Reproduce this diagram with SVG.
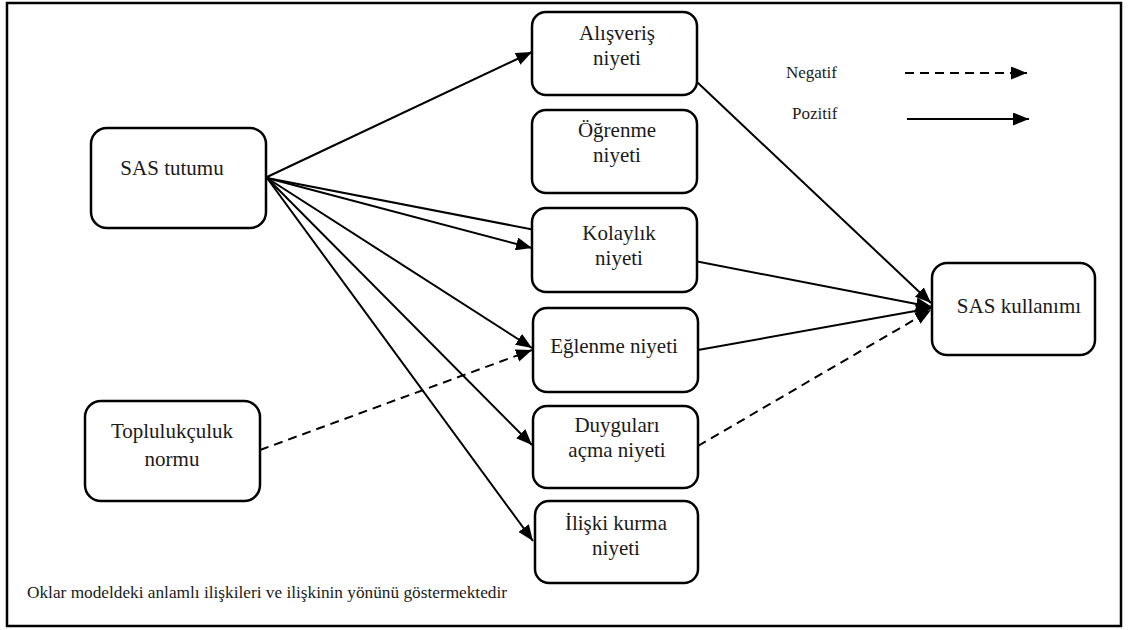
<svg xmlns="http://www.w3.org/2000/svg" width="1128" height="630" viewBox="0 0 1128 630">
<style>
.box{fill:#fff;stroke:#000;stroke-width:2.5}
.t{font-family:'Liberation Serif','DejaVu Serif',serif;font-size:21px;fill:#1a1a1a;text-anchor:middle}
.s{font-family:'Liberation Serif','DejaVu Serif',serif;font-size:17px;fill:#1a1a1a}
.ln{stroke:#000;stroke-width:2;fill:none}
.dash{stroke-dasharray:9 6}
</style>
<defs>
<marker id="ah" markerUnits="userSpaceOnUse" markerWidth="17" markerHeight="13" refX="16" refY="6.5" orient="auto">
<path d="M0,0 L16,6.5 L0,13 z" fill="#000"/>
</marker>
</defs>
<rect x="7" y="3" width="1114" height="623" fill="#fff" stroke="#000" stroke-width="2.5"/>
<g id="connectors">
<line class="ln" x1="267" y1="177" x2="532" y2="52" marker-end="url(#ah)"/>
<line class="ln" x1="267" y1="178" x2="532" y2="248" marker-end="url(#ah)"/>
<line class="ln" x1="267" y1="178" x2="932" y2="307" marker-end="url(#ah)"/>
<line class="ln" x1="267" y1="178" x2="532" y2="348" marker-end="url(#ah)"/>
<line class="ln" x1="267" y1="178" x2="532" y2="445" marker-end="url(#ah)"/>
<line class="ln" x1="267" y1="178" x2="533" y2="541" marker-end="url(#ah)"/>
<line class="ln dash" x1="260" y1="450" x2="532" y2="350" marker-end="url(#ah)"/>
<line class="ln" x1="697" y1="82" x2="931" y2="303" marker-end="url(#ah)"/>
<line class="ln" x1="698" y1="350" x2="932" y2="308" marker-end="url(#ah)"/>
<line class="ln dash" x1="698" y1="446" x2="931" y2="310" marker-end="url(#ah)"/>
<line class="ln dash" x1="905" y1="73" x2="1027" y2="73" marker-end="url(#ah)"/>
<line class="ln" x1="907" y1="119" x2="1029" y2="119" marker-end="url(#ah)"/>
</g>
<g id="n-tutum"><rect class="box" x="91" y="128" width="175" height="100" rx="16"/><text class="t" x="172" y="175">SAS tutumu</text></g>
<g id="n-alisveris"><rect class="box" x="532" y="12" width="165" height="83" rx="14"/><text class="t" x="617" y="40">Alışveriş</text><text class="t" x="617" y="65">niyeti</text></g>
<g id="n-ogrenme"><rect class="box" x="532" y="110" width="165" height="83" rx="14"/><text class="t" x="617" y="137">Öğrenme</text><text class="t" x="617" y="162">niyeti</text></g>
<g id="n-kolaylik"><rect class="box" x="532" y="208" width="165" height="84" rx="14"/><text class="t" x="619" y="240">Kolaylık</text><text class="t" x="619" y="265">niyeti</text></g>
<g id="n-eglenme"><rect class="box" x="533" y="308" width="165" height="84" rx="14"/><text class="t" x="614" y="353">Eğlenme niyeti</text></g>
<g id="n-duygu"><rect class="box" x="533" y="406" width="165" height="82" rx="14"/><text class="t" x="617" y="432">Duyguları</text><text class="t" x="617" y="457">açma niyeti</text></g>
<g id="n-iliski"><rect class="box" x="535" y="501" width="163" height="82" rx="14"/><text class="t" x="616" y="530">İlişki kurma</text><text class="t" x="616" y="555">niyeti</text></g>
<g id="n-kullanim"><rect class="box" x="932" y="263" width="163" height="92" rx="15"/><text class="t" x="1019" y="313">SAS kullanımı</text></g>
<g id="n-toplu"><rect class="box" x="85" y="401" width="175" height="100" rx="16"/><text class="t" x="172" y="438">Toplulukçuluk</text><text class="t" x="172" y="466">normu</text></g>
<g id="legend"><text class="s" x="786" y="78">Negatif</text><text class="s" x="792" y="119">Pozitif</text></g>
<text class="s" x="27" y="598" textLength="480" lengthAdjust="spacingAndGlyphs" style="font-size:16px">Oklar modeldeki anlamlı ilişkileri ve ilişkinin yönünü göstermektedir</text>
</svg>
